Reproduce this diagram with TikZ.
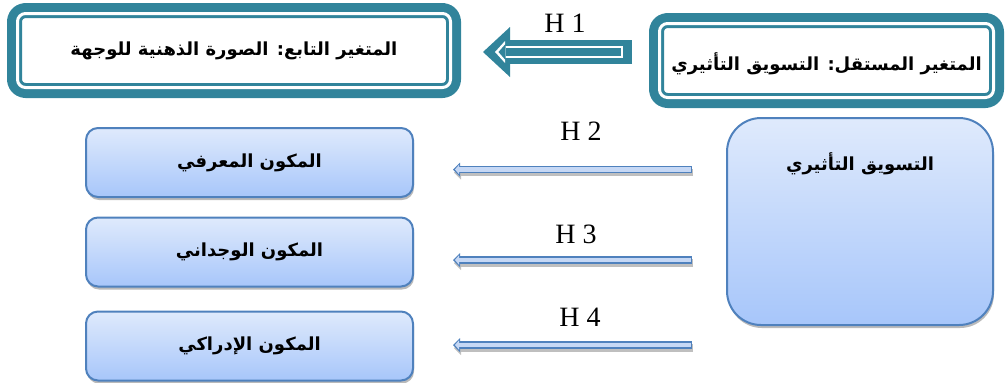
\documentclass[tikz,border=0pt]{standalone}
\usepackage{fontspec}
\setmainfont{Liberation Serif}
\newfontfamily\arabicfont[Script=Arabic]{DejaVu Sans}
\TeXXeTstate=1
\usetikzlibrary{arrows.meta}
\usetikzlibrary{shadows}
\definecolor{tealc}{RGB}{49,132,155}
\definecolor{blueline}{RGB}{79,129,189}
\definecolor{boxtop}{RGB}{223,234,252}
\definecolor{boxbot}{RGB}{167,198,250}
\definecolor{arrowin}{RGB}{198,216,245}

\begin{document}
\begin{tikzpicture}[line join=round,x=0.5pt,y=-0.5pt,
  mainbox/.style={draw=tealc,line width=1.5pt,double=white,double distance=1.5pt,
    preaction={draw=tealc,line width=10.5pt},fill=white,rounded corners=4pt,
    inner sep=0pt,outer sep=0pt,minimum height=37pt,
    font=\arabicfont\bfseries\fontsize{9}{11}\selectfont},
  bluebox/.style={draw=blueline,line width=1pt,top color=boxtop,bottom color=boxbot,
    rounded corners=6pt,inner sep=0pt,outer sep=0pt,minimum width=163.5pt,
    minimum height=34.5pt,font=\arabicfont\bfseries\fontsize{9}{11}\selectfont,
    drop shadow={shadow xshift=0.5pt,shadow yshift=-1.5pt,fill=black!45,opacity=0.6}},
  hlabel/.style={font=\fontsize{14}{16}\selectfont,inner sep=0pt},
  bigarrow/.style={line width=4pt,draw=tealc,shorten <=19.25pt,shorten >=24pt,
    -{Triangle[length=3.5pt,width=8pt,line width=0pt]},
    preaction={draw=tealc,line width=12pt,shorten <=13.75pt,shorten >=16.25pt,
      -{Triangle[length=13.5pt,width=25pt,line width=0pt]}},
    preaction={draw=white,line width=6pt,shorten <=18.25pt,shorten >=22.25pt,
      -{Triangle[length=5pt,width=11pt,line width=0pt]}}},
  hyparrow/.style={line width=2.25pt,draw=arrowin,shorten <=18.25pt,shorten >=21pt,
    -{Triangle[length=2pt,width=4.75pt,line width=0pt]},
    preaction={draw=black!25,line width=3.75pt,shorten <=17.5pt,shorten >=20pt,
      transform canvas={shift={(0.5pt,-1.5pt)}},
      -{Triangle[length=3.5pt,width=7pt,line width=0pt]}},
    preaction={draw=blueline,line width=3.75pt,shorten <=17.5pt,shorten >=20pt,
      -{Triangle[length=3.5pt,width=7pt,line width=0pt]}}}]
\useasboundingbox (0,0) rectangle (1005,382);

% the two variables
\node[mainbox,minimum width=216.5pt] (dep) at (234,50.5) {\beginR المتغير التابع: الصورة الذهنية للوجهة\endR};
\node[mainbox,minimum width=167pt,text height=13pt,text depth=3pt] (indep) at (826.5,60.5) {\beginR المتغير المستقل: التسويق التأثيري\endR};
\draw[bigarrow] ([yshift=-0.75pt]dep.east -| indep.west) -- ([yshift=-0.75pt]dep.east);
\node[hlabel] (h1) at (565,23) {H 1};

% dimensions
\node[bluebox,minimum width=133pt,rounded corners=17pt,text height=26pt,text depth=77.5pt] (src) at (860,221.5) {\beginR التسويق التأثيري\endR};
\node[bluebox] (b1) at (249.5,162.5) {\beginR المكون المعرفي\endR};
\node[bluebox] (b2) at (249.5,252) {\beginR المكون الوجداني\endR};
\node[bluebox] (b3) at (249.5,346) {\beginR المكون الإدراكي\endR};

\draw[hyparrow] ([yshift=-3.5pt]b1.east -| src.west) -- ([yshift=-3.5pt]b1.east);
\draw[hyparrow] ([yshift=-4pt]b2.east -| src.west) -- ([yshift=-4pt]b2.east);
\draw[hyparrow] ([yshift=0.5pt]b3.east -| src.west) -- ([yshift=0.5pt]b3.east);
\node[hlabel] (h2) at (581,131) {H 2};
\node[hlabel] (h3) at (576,234) {H 3};
\node[hlabel] (h4) at (580,317) {H 4};
\end{tikzpicture}
\end{document}
